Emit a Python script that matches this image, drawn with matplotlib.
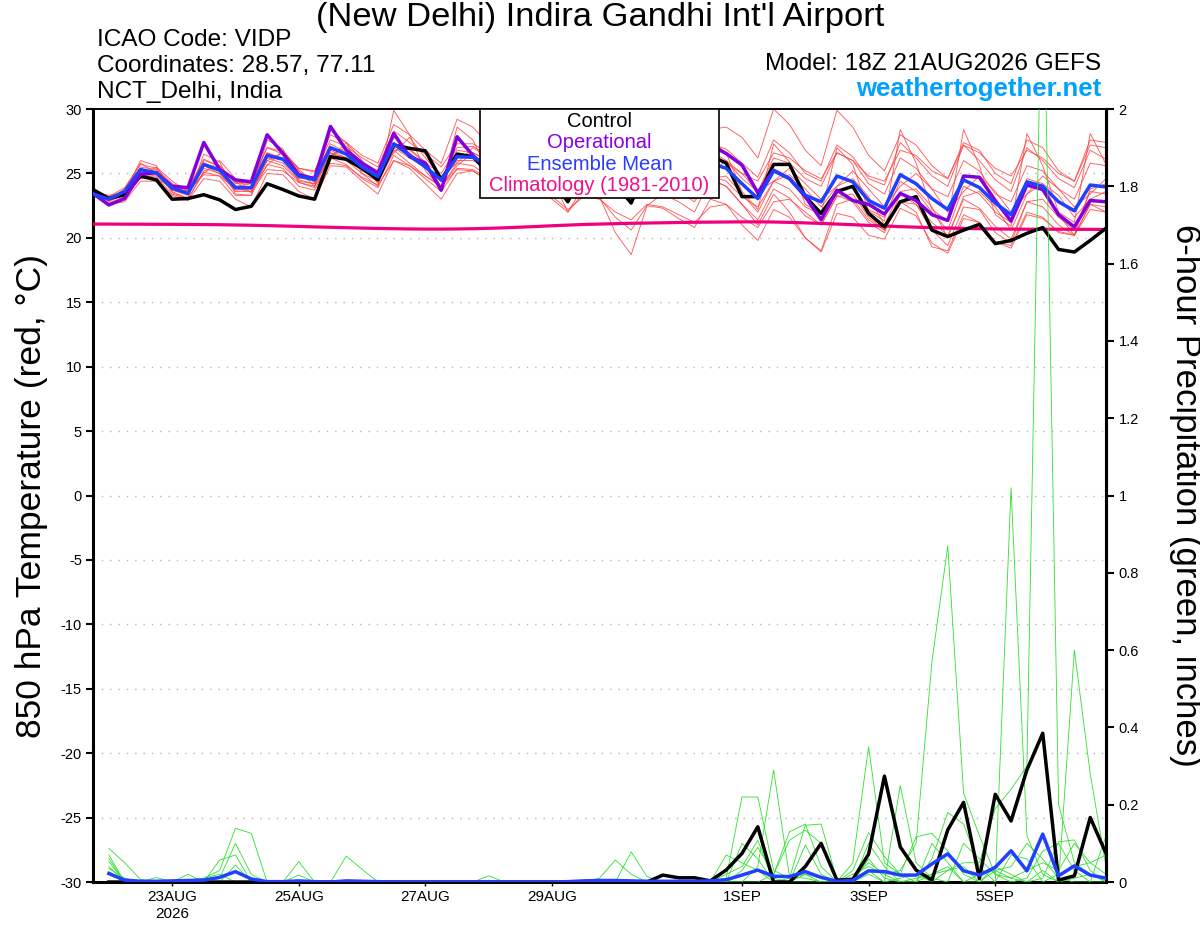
import numpy as np
import matplotlib
matplotlib.use("Agg")
import matplotlib.pyplot as plt
from matplotlib.patches import Rectangle

plt.rcParams['font.family'] = ['Liberation Sans', 'DejaVu Sans']

# GEFS run 18Z 21AUG2026, 6-hourly steps out to 384h
init_time = np.datetime64('2026-08-21T18:00')
n_steps = 65
times = init_time + np.arange(n_steps) * np.timedelta64(6, 'h')

tick_dates = ['2026-08-23', '2026-08-25', '2026-08-27', '2026-08-29',
              '2026-09-01', '2026-09-03', '2026-09-05']
tick_labels = ['23AUG\n2026', '25AUG', '27AUG', '29AUG', '1SEP', '3SEP', '5SEP']

# 850 hPa temperature (C)
t_control = [23.75, 23.05, 23.35, 24.8, 24.5, 23.0, 23.05, 23.35, 22.95, 22.2,
             22.45, 24.2, 23.75, 23.25, 23.0, 26.3, 26.1, 25.4, 24.5, 27.2,
             26.95, 26.75, 24.5, 26.5, 26.3, 25.0, 24.2, 25.8, 25.5, 24.4,
             22.8, 25.3, 25.0, 24.2, 22.7, 25.6, 25.4, 24.8, 24.0, 26.4,
             25.8, 23.2, 23.2, 25.7, 25.7, 23.2, 21.9, 23.6, 24.0, 21.9,
             20.85, 22.8, 23.2, 20.6, 20.1, 20.6, 21.05, 19.55, 19.8, 20.35,
             20.8, 19.1, 18.9, 19.8, 20.75]
t_oper = [23.45, 22.55, 23.05, 24.95, 25.05, 24.0, 23.9, 27.4, 25.3, 24.5,
          24.35, 28.0, 26.55, 24.9, 24.6, 28.65, 26.8, 25.8, 25.05, 28.1,
          26.3, 25.8, 23.7, 27.85, 26.4, 25.3, 24.8, 26.8, 26.0, 25.0,
          24.3, 26.5, 25.8, 24.8, 24.2, 26.6, 26.2, 25.5, 25.0, 27.2,
          26.55, 25.65, 23.5, 25.25, 24.6, 23.2, 21.4, 23.7, 22.9, 22.6,
          21.85, 23.45, 22.9, 21.8, 21.35, 24.8, 24.7, 22.9, 21.3, 24.1,
          23.75, 21.8, 20.85, 22.9, 22.8]
t_mean = [23.4, 23.0, 23.6, 25.3, 25.05, 23.85, 23.45, 25.7, 25.25, 23.9,
          23.9, 26.4, 26.1, 24.8, 24.5, 27.0, 26.5, 25.5, 24.75, 27.3,
          26.4, 25.5, 24.5, 26.3, 26.25, 25.6, 25.0, 26.2, 25.8, 25.0,
          24.4, 25.8, 25.4, 24.7, 24.2, 25.7, 25.5, 24.9, 24.4, 25.8,
          25.4, 24.2, 23.05, 25.2, 24.6, 23.3, 22.8, 24.8, 24.35, 22.9,
          22.3, 24.9, 24.2, 23.05, 22.2, 24.5, 23.9, 22.7, 21.8, 24.35,
          24.0, 22.8, 22.1, 24.1, 23.95]
t_clim = [21.07, 21.07, 21.06, 21.06, 21.05, 21.05, 21.04, 21.03, 21.02, 21.0,
          20.98, 20.95, 20.92, 20.89, 20.85, 20.82, 20.79, 20.76, 20.73, 20.71,
          20.69, 20.68, 20.68, 20.69, 20.71, 20.74, 20.78, 20.83, 20.88, 20.94,
          20.99, 21.04, 21.07, 21.1, 21.13, 21.15, 21.17, 21.19, 21.21, 21.22,
          21.23, 21.24, 21.24, 21.23, 21.2, 21.16, 21.12, 21.07, 21.02, 20.97,
          20.92, 20.87, 20.83, 20.79, 20.76, 20.73, 20.71, 20.69, 20.68, 20.67,
          20.67, 20.67, 20.66, 20.66, 20.65]

# ensemble members, temperature
t_m01 = [23.6, 23.2, 23.9, 25.7, 25.4, 24.2, 23.8, 26.1, 25.6, 24.3,
         24.2, 27.0, 26.7, 25.4, 25.1, 27.6, 27.1, 26.2, 25.5, 28.3,
         27.4, 26.5, 25.5, 27.3, 27.3, 26.6, 26.0, 27.4, 26.9, 26.0,
         25.4, 27.0, 26.5, 25.7, 25.2, 27.0, 26.6, 26.0, 25.5, 27.3,
         26.9, 25.8, 24.7, 27.6, 26.6, 25.0, 24.4, 27.2, 26.3, 24.6,
         24.1, 27.4, 26.2, 24.8, 24.0, 27.2, 26.0, 24.5, 23.6, 27.0,
         26.0, 24.6, 23.9, 26.8, 26.1]
t_m02 = [23.3, 22.7, 23.2, 24.9, 24.7, 23.4, 23.0, 25.1, 24.8, 23.3,
         23.3, 25.7, 25.4, 24.0, 23.7, 26.2, 25.7, 24.6, 23.9, 26.4,
         25.6, 24.6, 23.6, 25.4, 25.3, 24.6, 23.9, 25.1, 24.8, 23.9,
         23.1, 24.7, 24.3, 23.5, 22.8, 24.5, 24.2, 23.5, 23.0, 24.5,
         24.0, 22.6, 21.4, 23.8, 23.1, 21.7, 21.0, 23.3, 22.8, 21.2,
         20.4, 23.4, 22.6, 21.2, 20.2, 23.0, 22.3, 20.9, 19.9, 22.8,
         22.4, 21.0, 20.2, 22.6, 22.4]
t_m03 = [23.5, 22.8, 23.4, 26.0, 25.6, 23.5, 23.1, 26.5, 25.9, 23.4,
         23.3, 27.6, 26.9, 24.3, 23.9, 28.4, 27.4, 25.0, 24.0, 29.9,
         28.0, 25.2, 23.8, 28.6, 27.6, 25.1, 24.3, 27.9, 26.8, 24.3,
         23.6, 27.6, 26.6, 24.0, 23.4, 27.5, 26.7, 24.2, 23.5, 27.6,
         26.6, 23.6, 22.2, 27.3, 25.9, 22.6, 21.9, 27.0, 25.7, 22.1,
         21.3, 28.4, 25.8, 22.2, 21.3, 28.4, 25.6, 21.8, 20.9, 28.1,
         25.6, 22.0, 21.2, 28.1, 25.7]
t_m04 = [23.6, 23.3, 23.5, 24.6, 24.6, 23.9, 23.6, 24.9, 24.8, 23.8,
         23.6, 25.3, 25.2, 24.3, 24.0, 25.8, 25.6, 24.7, 24.1, 26.0,
         25.6, 24.8, 24.0, 25.3, 25.2, 24.4, 23.6, 24.6, 24.2, 23.0,
         22.0, 23.5, 23.1, 21.6, 20.6, 22.5, 22.3, 21.5, 20.8, 23.0,
         22.6, 21.0, 19.8, 22.2, 21.6, 20.0, 18.9, 21.9, 21.6, 20.2,
         19.9, 22.3, 21.7, 19.6, 18.8, 21.5, 21.2, 19.7, 19.2, 21.8,
         21.5, 20.5, 20.2, 22.6, 22.0]
t_m05 = [23.2, 23.0, 23.8, 25.8, 25.0, 23.6, 23.0, 25.2, 25.6, 24.4,
         23.5, 26.0, 26.6, 25.2, 24.0, 26.4, 27.0, 25.9, 24.2, 26.8,
         26.9, 25.9, 24.0, 25.6, 26.6, 26.0, 24.4, 25.4, 26.0, 24.6,
         22.0, 24.0, 23.2, 20.4, 18.7, 22.5, 23.4, 22.8, 22.0, 24.6,
         24.8, 23.4, 22.0, 24.4, 24.9, 23.8, 22.4, 24.0, 24.6, 23.2,
         21.0, 23.6, 23.8, 22.4, 20.0, 23.2, 23.6, 22.4, 20.6, 23.4,
         24.2, 23.3, 21.6, 23.0, 23.6]
t_m06 = [23.7, 23.1, 23.5, 25.1, 25.2, 24.1, 23.7, 25.8, 25.3, 24.0,
         24.2, 26.6, 26.0, 24.6, 24.8, 27.3, 26.6, 25.2, 25.0, 27.8,
         26.8, 25.8, 25.0, 27.0, 27.1, 26.4, 25.6, 27.4, 27.0, 26.2,
         25.6, 27.6, 27.2, 26.2, 25.6, 27.8, 27.6, 27.0, 26.4, 28.4,
         28.6, 27.8, 26.2, 30.0, 28.8, 26.8, 25.6, 29.9, 28.6, 26.4,
         25.2, 28.0, 27.2, 25.6, 24.6, 27.4, 26.8, 25.0, 24.2, 27.6,
         27.0, 25.2, 24.4, 27.6, 27.4]
t_m07 = [23.5, 22.9, 23.3, 24.8, 25.5, 24.4, 23.6, 25.0, 26.0, 24.6,
         23.7, 25.6, 26.8, 25.3, 24.3, 26.2, 27.4, 26.0, 24.6, 26.6,
         27.8, 26.2, 24.8, 25.8, 27.0, 26.2, 25.0, 25.6, 26.6, 25.6,
         24.6, 25.2, 26.2, 25.2, 24.4, 25.0, 26.2, 25.6, 24.6, 25.0,
         26.0, 25.0, 23.6, 24.4, 25.4, 24.2, 23.0, 24.0, 25.2, 23.8,
         22.4, 24.0, 25.0, 23.8, 22.0, 23.6, 24.8, 23.6, 22.0, 23.4,
         24.8, 23.8, 22.4, 23.4, 24.6]
t_m08 = [23.3, 22.6, 22.8, 24.4, 24.4, 23.3, 22.9, 24.6, 24.4, 23.0,
         22.4, 25.0, 24.9, 23.6, 23.0, 25.6, 25.5, 24.4, 23.4, 26.0,
         25.4, 24.2, 23.0, 25.0, 25.2, 24.4, 23.4, 24.4, 24.4, 23.2,
         22.2, 23.2, 23.0, 22.0, 21.4, 22.6, 22.4, 21.8, 21.2, 22.4,
         22.6, 21.6, 20.8, 22.8, 23.0, 22.0, 21.0, 23.2, 23.4, 21.6,
         20.6, 22.8, 22.6, 20.6, 19.4, 22.4, 22.2, 20.4, 19.6, 22.8,
         23.0, 21.6, 20.6, 23.6, 23.4]
t_m09 = [23.4, 23.1, 23.7, 25.5, 25.3, 24.0, 23.8, 26.0, 25.6, 24.2,
         24.4, 27.0, 26.5, 25.4, 25.2, 28.0, 27.4, 26.4, 25.8, 28.8,
         28.0, 26.8, 25.8, 29.2, 28.6, 27.2, 26.2, 28.4, 27.6, 26.0,
         25.0, 27.0, 26.6, 25.4, 24.6, 26.6, 26.4, 25.6, 25.2, 26.8,
         26.0, 24.6, 23.6, 26.2, 25.8, 24.6, 24.0, 26.6, 26.0, 24.2,
         23.4, 26.2, 25.4, 23.8, 23.2, 26.0, 25.2, 23.4, 22.8, 25.6,
         25.2, 23.8, 23.0, 25.8, 25.6]
t_m10 = [23.6, 23.0, 23.6, 25.0, 24.8, 23.8, 23.4, 25.4, 25.0, 23.6,
         23.6, 26.0, 25.6, 24.4, 24.2, 26.6, 26.0, 25.0, 24.4, 26.8,
         25.8, 24.8, 24.0, 25.8, 25.6, 24.8, 24.2, 25.6, 25.2, 24.4,
         23.8, 25.4, 25.0, 24.2, 23.6, 25.2, 24.8, 24.0, 23.4, 24.8,
         24.4, 23.2, 22.4, 24.4, 23.8, 22.4, 21.8, 23.6, 23.0, 21.4,
         20.6, 22.8, 22.0, 19.3, 19.0, 21.8, 21.2, 19.7, 19.4, 22.0,
         21.6, 20.4, 20.2, 22.2, 22.0]
t_m11 = [23.5, 23.2, 23.6, 25.4, 25.0, 23.7, 23.3, 25.6, 25.0, 23.7,
         23.8, 26.2, 25.8, 24.5, 24.2, 26.6, 26.2, 25.2, 24.6, 27.0,
         26.2, 25.4, 24.6, 26.8, 26.6, 26.0, 25.4, 27.0, 26.6, 25.6,
         25.0, 26.6, 26.2, 25.4, 25.0, 26.4, 26.0, 25.2, 24.6, 26.2,
         25.8, 25.0, 24.4, 26.6, 26.2, 25.2, 24.6, 26.6, 26.0, 24.8,
         24.4, 26.8, 26.4, 25.2, 24.6, 27.2, 26.6, 25.4, 24.8, 26.8,
         26.2, 25.0, 24.4, 27.2, 27.0]
t_m12 = [23.4, 22.9, 23.5, 25.2, 25.1, 24.0, 23.6, 25.8, 25.2, 23.8,
         24.0, 26.6, 26.2, 25.0, 24.6, 26.8, 26.2, 25.4, 24.8, 27.4,
         26.6, 25.6, 24.4, 26.0, 26.0, 25.4, 24.6, 25.8, 25.2, 24.2,
         23.6, 25.0, 24.6, 23.8, 23.0, 24.8, 24.4, 23.6, 22.8, 24.6,
         24.0, 22.6, 21.0, 23.4, 22.0, 20.0, 19.0, 22.6, 23.0, 22.2,
         21.6, 24.4, 23.6, 22.0, 20.6, 24.0, 23.4, 22.0, 21.2, 24.6,
         24.2, 21.8, 20.2, 23.8, 24.2]

# 6-hour precipitation (inches), from step 1 onward
p_control = [0.0, 0.0, 0.0, 0.0, 0.0, 0.0, 0.0, 0.0, 0.0, 0.0,
             0.0, 0.0, 0.0, 0.0, 0.0, 0.0, 0.0, 0.0, 0.0, 0.0,
             0.0, 0.0, 0.0, 0.0, 0.0, 0.0, 0.0, 0.0, 0.0, 0.0,
             0.0, 0.0, 0.0, 0.0, 0.0, 0.018, 0.011, 0.011, 0.003, 0.031,
             0.074, 0.143, 0.0, 0.0, 0.04, 0.1, 0.005, 0.007, 0.072, 0.274,
             0.091, 0.031, 0.005, 0.135, 0.206, 0.009, 0.227, 0.158, 0.29, 0.385,
             0.005, 0.016, 0.167, 0.074]
p_mean = [0.022, 0.005, 0.002, 0.002, 0.003, 0.004, 0.005, 0.012, 0.027, 0.008,
          0.001, 0.001, 0.003, 0.001, 0.0, 0.003, 0.002, 0.001, 0.0, 0.0,
          0.0, 0.0, 0.0, 0.0, 0.001, 0.0, 0.0, 0.0, 0.0, 0.001,
          0.003, 0.004, 0.004, 0.003, 0.002, 0.002, 0.002, 0.002, 0.003, 0.006,
          0.018, 0.031, 0.015, 0.014, 0.027, 0.012, 0.002, 0.004, 0.029, 0.027,
          0.018, 0.018, 0.047, 0.073, 0.029, 0.018, 0.038, 0.081, 0.029, 0.124,
          0.016, 0.042, 0.018, 0.01]

p_m01 = [0.087, 0.05, 0.007, 0.0, 0.0, 0.005, 0.01, 0.03, 0.139, 0.126,
         0.0, 0.0, 0.0, 0.0, 0.0, 0.0, 0.0, 0.0, 0.0, 0.0,
         0.0, 0.0, 0.0, 0.0, 0.0, 0.0, 0.0, 0.0, 0.0, 0.0,
         0.0, 0.0, 0.0, 0.0, 0.0, 0.0, 0.0, 0.0, 0.0, 0.01,
         0.22, 0.22, 0.03, 0.01, 0.02, 0.01, 0.0, 0.02, 0.04, 0.02,
         0.03, 0.1, 0.57, 0.87, 0.23, 0.12, 0.02, 0.01, 0.03, 0.05,
         0.03, 0.1, 0.05, 0.02]
p_m02 = [0.07, 0.0, 0.0, 0.0, 0.0, 0.0, 0.0, 0.01, 0.1, 0.02,
         0.0, 0.0, 0.053, 0.0, 0.0, 0.0, 0.0, 0.0, 0.0, 0.0,
         0.0, 0.0, 0.0, 0.0, 0.0, 0.0, 0.0, 0.0, 0.0, 0.0,
         0.0, 0.0, 0.0, 0.0, 0.0, 0.0, 0.0, 0.0, 0.0, 0.0,
         0.0, 0.04, 0.29, 0.014, 0.01, 0.0, 0.0, 0.01, 0.05, 0.02,
         0.0, 0.01, 0.02, 0.03, 0.04, 0.0, 0.0, 1.02, 0.12, 0.02,
         0.0, 0.01, 0.02, 0.0]
p_m03 = [0.061, 0.0, 0.0, 0.0, 0.0, 0.0, 0.0, 0.057, 0.07, 0.0,
         0.0, 0.0, 0.018, 0.0, 0.0, 0.067, 0.033, 0.0, 0.0, 0.0,
         0.0, 0.0, 0.0, 0.0, 0.0, 0.0, 0.0, 0.0, 0.0, 0.0,
         0.0, 0.01, 0.057, 0.02, 0.0, 0.0, 0.0, 0.0, 0.0, 0.0,
         0.02, 0.03, 0.0, 0.01, 0.147, 0.15, 0.005, 0.0, 0.02, 0.0,
         0.01, 0.02, 0.0, 0.03, 0.05, 0.05, 0.19, 0.24, 0.3, 2.5,
         0.2, 0.05, 0.02, 0.01]
p_m04 = [0.053, 0.0, 0.0, 0.0, 0.0, 0.0, 0.0, 0.0, 0.044, 0.0,
         0.0, 0.0, 0.0, 0.0, 0.0, 0.0, 0.0, 0.0, 0.0, 0.0,
         0.0, 0.0, 0.0, 0.0, 0.0, 0.0, 0.0, 0.0, 0.0, 0.0,
         0.0, 0.0, 0.0, 0.078, 0.014, 0.0, 0.0, 0.0, 0.0, 0.07,
         0.05, 0.03, 0.01, 0.0, 0.02, 0.0, 0.0, 0.05, 0.35, 0.05,
         0.02, 0.0, 0.02, 0.04, 0.0, 0.02, 0.03, 0.01, 0.0, 0.03,
         0.0, 0.6, 0.28, 0.04]
p_m05 = [0.04, 0.0, 0.0, 0.012, 0.0, 0.0, 0.0, 0.0, 0.0, 0.0,
         0.0, 0.0, 0.0, 0.0, 0.0, 0.0, 0.0, 0.0, 0.0, 0.0,
         0.0, 0.0, 0.0, 0.0, 0.016, 0.0, 0.0, 0.0, 0.0, 0.0,
         0.0, 0.0, 0.0, 0.0, 0.0, 0.0, 0.0, 0.0, 0.0, 0.0,
         0.0, 0.0, 0.02, 0.108, 0.134, 0.1, 0.01, 0.0, 0.03, 0.0,
         0.25, 0.05, 0.01, 0.0, 0.1, 0.06, 0.02, 0.0, 0.01, 0.08,
         0.1, 0.03, 0.0, 0.0]
p_m06 = [0.027, 0.0, 0.0, 0.0, 0.0, 0.02, 0.0, 0.0, 0.0, 0.0,
         0.0, 0.0, 0.0, 0.0, 0.0, 0.0, 0.0, 0.0, 0.0, 0.0,
         0.0, 0.0, 0.0, 0.0, 0.0, 0.0, 0.0, 0.0, 0.0, 0.0,
         0.0, 0.0, 0.0, 0.0, 0.0, 0.0, 0.0, 0.0, 0.0, 0.02,
         0.04, 0.108, 0.0, 0.0, 0.0, 0.0, 0.0, 0.03, 0.128, 0.066,
         0.02, 0.117, 0.126, 0.08, 0.02, 0.0, 0.04, 0.02, 0.0, 0.01,
         0.104, 0.109, 0.03, 0.0]
p_m07 = [0.02, 0.0, 0.0, 0.0, 0.0, 0.0, 0.0, 0.0, 0.0, 0.0,
         0.0, 0.0, 0.0, 0.0, 0.0, 0.0, 0.0, 0.0, 0.0, 0.0,
         0.0, 0.0, 0.0, 0.0, 0.0, 0.0, 0.0, 0.0, 0.0, 0.0,
         0.0, 0.0, 0.0, 0.0, 0.0, 0.0, 0.0, 0.0, 0.0, 0.0,
         0.1, 0.06, 0.0, 0.0, 0.096, 0.02, 0.0, 0.0, 0.1, 0.04,
         0.0, 0.0, 0.06, 0.18, 0.15, 0.04, 0.0, 0.07, 0.06, 0.0,
         0.02, 0.04, 0.05, 0.07]
p_m08 = [0.035, 0.01, 0.0, 0.0, 0.0, 0.0, 0.01, 0.02, 0.0, 0.0,
         0.0, 0.0, 0.0, 0.0, 0.0, 0.0, 0.0, 0.0, 0.0, 0.0,
         0.0, 0.0, 0.0, 0.0, 0.0, 0.0, 0.0, 0.0, 0.0, 0.0,
         0.0, 0.0, 0.0, 0.0, 0.0, 0.0, 0.0, 0.0, 0.0, 0.0,
         0.03, 0.09, 0.02, 0.13, 0.15, 0.04, 0.0, 0.0, 0.06, 0.01,
         0.0, 0.0, 0.1, 0.05, 0.0, 0.0, 0.03, 0.04, 0.1, 0.06,
         0.01, 0.0, 0.0, 0.12]

temp_members = [t_m01, t_m02, t_m03, t_m04, t_m05, t_m06,
                t_m07, t_m08, t_m09, t_m10, t_m11, t_m12]
precip_members = [p_m01, p_m02, p_m03, p_m04, p_m05, p_m06, p_m07, p_m08]

fig = plt.figure(figsize=(12, 9.27), dpi=100)
ax = fig.add_axes([0.0775, 0.0485, 0.8442, 0.8339])
ax2 = ax.twinx()

# temperature
for m in temp_members:
    ax.plot(times[:len(m)], m, color='#ff4040', lw=0.65, alpha=0.85, zorder=2)
ax.plot(times, t_clim, color='#f0007f', lw=2.3, zorder=3)
ax.plot(times, t_control, color='black', lw=2.5, zorder=4)
ax.plot(times, t_oper, color='#8200dc', lw=2.5, zorder=5)
ax.plot(times, t_mean, color='#2040ff', lw=2.5, zorder=6)

# precipitation
for m in precip_members:
    ax2.plot(times[1:1 + len(m)], m, color='#2ee02e', lw=0.6, zorder=2)
ax2.plot(times[1:1 + len(p_control)], p_control, color='black', lw=2.5, zorder=4)
ax2.plot(times[1:1 + len(p_mean)], p_mean, color='#2040ff', lw=2.5, zorder=5)

ax.set_xlim(times[0], times[-1])
ax.set_ylim(-30, 30)
ax2.set_ylim(0, 2)

ax.set_yticks(np.arange(-30, 31, 5))
ax.set_yticklabels([str(v) for v in range(-30, 31, 5)])
ax2.set_yticks(np.arange(0, 2.01, 0.2))
ax2.set_yticklabels(['0', '0.2', '0.4', '0.6', '0.8', '1', '1.2', '1.4', '1.6', '1.8', '2'])

ax.set_xticks([np.datetime64(d + 'T00:00') for d in tick_dates])
ax.set_xticklabels(tick_labels)

for v in range(-25, 30, 5):
    ax.axhline(v, color='#b4b4b4', lw=1.0, ls=(0, (1, 5)), zorder=1)

ax.tick_params(axis='y', direction='out', length=5, width=1.5, labelsize=10.5, pad=3)
ax.tick_params(axis='x', direction='out', length=3, width=1.0, labelsize=11, pad=3)
ax2.tick_params(axis='y', direction='out', length=6, width=1.5, labelsize=10.5, pad=3)

for name, sp in ax.spines.items():
    sp.set_linewidth(2.2)
ax.spines['top'].set_linewidth(1.4)
for name, sp in ax2.spines.items():
    sp.set_visible(name == 'right')
ax2.spines['right'].set_linewidth(2.2)

ax.set_ylabel('850 hPa Temperature (red, °C)', fontsize=25.5)
ax.yaxis.set_label_coords(-0.044, 0.5)
ax2.set_ylabel('6-hour Precipitation (green, inches)', fontsize=25, rotation=270, va='bottom')
ax2.yaxis.set_label_coords(1.062, 0.5)

# legend box at the top centre
ax2.add_patch(Rectangle((0.382, 0.885), 0.236, 0.115, transform=ax2.transAxes,
                        facecolor='white', edgecolor='black', lw=1.2, zorder=10,
                        clip_on=False))
leg_items = [('Control', 'black'), ('Operational', '#8a00e6'),
             ('Ensemble Mean', '#2a3cff'), ('Climatology (1981-2010)', '#f0108c')]
for k, (txt, col) in enumerate(leg_items):
    ax2.text(0.5, 0.984 - k * 0.0278, txt, transform=ax2.transAxes, ha='center',
             va='center', fontsize=14.5, color=col, zorder=11)

fig.text(0.5, 0.9806, "(New Delhi) Indira Gandhi Int'l Airport", ha='center',
         va='center', fontsize=24.8)
fig.text(0.081, 0.9569, 'ICAO Code: VIDP', ha='left', va='center', fontsize=17.6)
fig.text(0.081, 0.9288, 'Coordinates: 28.57, 77.11', ha='left', va='center', fontsize=17.6)
fig.text(0.081, 0.9008, 'NCT_Delhi, India', ha='left', va='center', fontsize=17.6)
fig.text(0.9175, 0.931, 'Model: 18Z 21AUG2026 GEFS', ha='right', va='center', fontsize=17.6)
fig.text(0.9175, 0.904, 'weathertogether.net', ha='right', va='center', fontsize=18.5,
         fontweight='bold', color='#00a0ff')

fig.savefig('out.png', dpi=100)
